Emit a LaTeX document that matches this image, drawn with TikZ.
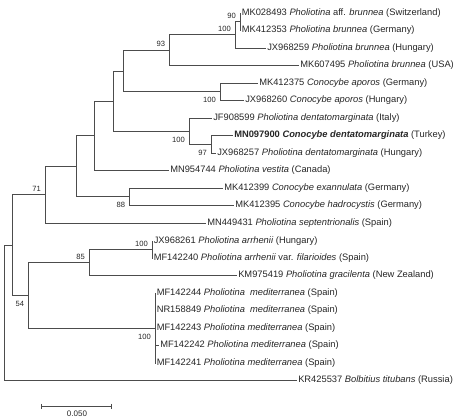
\documentclass[tikz,border=0pt]{standalone}
\usepackage{fontspec}
\setmainfont{Liberation Sans}
\begin{document}
\begin{tikzpicture}[x=0.75pt,y=-0.75pt,
  br/.style={draw=black!70, line width=0.6pt},
  leaf/.style={anchor=west, inner sep=0.75pt, font=\fontsize{7}{8}\selectfont, text=black!85, text height=5pt, text depth=1.5pt},
  bs/.style={anchor=base east, inner sep=0pt, font=\fontsize{5.7}{6}\selectfont, text=black!85, xshift=-3pt},
  bsa/.style={bs, yshift=2.5pt},
  bsb/.style={bs, yshift=-8.4pt}]
\useasboundingbox (0,0) rectangle (457,417);
% internal nodes
\coordinate (N90) at (240,21.75);
\coordinate (N100c) at (235,34.9);
\coordinate (N93) at (169.3,50.2);
\coordinate (N100b) at (220,91.75);
\coordinate (E) at (123,70.97);
\coordinate (N97) at (211,144.25);
\coordinate (N100a) at (189,131.1);
\coordinate (D) at (113.7,101);
\coordinate (C) at (94,135.8);
\coordinate (N88) at (129.3,196.75);
\coordinate (B) at (76.7,166.3);
\coordinate (N71) at (45,194.6);
\coordinate (N100r) at (152,249.5);
\coordinate (N85) at (89,262.5);
\coordinate (N100m) at (155,328);
\coordinate (N54) at (28.3,295.25);
\coordinate (A) at (12.3,244.9);
\coordinate (R) at (4,312.7);
% leaves
\node[leaf] (L1) at (240.5,13) {MK028493 \textit{Pholiotina} aff. \textit{brunnea} (Switzerland)};
\node[leaf] (L2) at (240.5,30.5) {MK412353 \textit{Pholiotina brunnea} (Germany)};
\node[leaf] (L3) at (266,48) {JX968259 \textit{Pholiotina brunnea} (Hungary)};
\node[leaf] (L4) at (299,65.5) {MK607495 \textit{Pholiotina brunnea} (USA)};
\node[leaf] (L5) at (258,83) {MK412375 \textit{Conocybe aporos} (Germany)};
\node[leaf] (L6) at (244,100.5) {JX968260 \textit{Conocybe aporos} (Hungary)};
\node[leaf] (L7) at (212,118) {JF908599 \textit{Pholiotina dentatomarginata} (Italy)};
\node[leaf] (L8) at (233,135.5) {\textbf{MN097900 \textit{Conocybe dentatomarginata}} (Turkey)};
\node[leaf] (L9) at (216,153) {JX968257 \textit{Pholiotina dentatomarginata} (Hungary)};
\node[leaf] (L10) at (169,170.5) {MN954744 \textit{Pholiotina vestita} (Canada)};
\node[leaf] (L11) at (223,188) {MK412399 \textit{Conocybe exannulata} (Germany)};
\node[leaf] (L12) at (234,205.5) {MK412395 \textit{Conocybe hadrocystis} (Germany)};
\node[leaf] (L13) at (206,223) {MN449431 \textit{Pholiotina septentrionalis} (Spain)};
\node[leaf] (L14) at (152.5,241) {JX968261 \textit{Pholiotina arrhenii} (Hungary)};
\node[leaf] (L15) at (152.5,258) {MF142240 \textit{Pholiotina arrhenii} var. \textit{filarioides} (Spain)};
\node[leaf] (L16) at (237,275.5) {KM975419 \textit{Pholiotina gracilenta} (New Zealand)};
\node[leaf] (L17) at (155.5,293) {MF142244 \textit{Pholiotina\ \ mediterranea} (Spain)};
\node[leaf] (L18) at (155.5,310.5) {NR158849 \textit{Pholiotina\ \ mediterranea} (Spain)};
\node[leaf] (L19) at (155.5,328) {MF142243 \textit{Pholiotina mediterranea} (Spain)};
\node[leaf] (L20) at (159,345.5) {MF142242 \textit{Pholiotina mediterranea} (Spain)};
\node[leaf] (L21) at (155.5,363) {MF142241 \textit{Pholiotina mediterranea} (Spain)};
\node[leaf] (L22) at (297,380.5) {KR425537 \textit{Bolbitius titubans} (Russia)};
% branches
\draw[br] (N90) |- (L1.west);
\draw[br] (N90) |- (L2.west);
\draw[br] (N100c) |- (N90);
\draw[br] (N100c) |- (L3.west);
\draw[br] (N93) |- (N100c);
\draw[br] (N93) |- (L4.west);
\draw[br] (N100b) |- (L5.west);
\draw[br] (N100b) |- (L6.west);
\draw[br] (E) |- (N93);
\draw[br] (E) |- (N100b);
\draw[br] (N97) |- (L8.west);
\draw[br] (N97) |- (L9.west);
\draw[br] (N100a) |- (L7.west);
\draw[br] (N100a) |- (N97);
\draw[br] (D) |- (E);
\draw[br] (D) |- (N100a);
\draw[br] (C) |- (D);
\draw[br] (C) |- (L10.west);
\draw[br] (N88) |- (L11.west);
\draw[br] (N88) |- (L12.west);
\draw[br] (B) |- (C);
\draw[br] (B) |- (N88);
\draw[br] (N71) |- (B);
\draw[br] (N71) |- (L13.west);
\draw[br] (N100r) |- (L14.west);
\draw[br] (N100r) |- (L15.west);
\draw[br] (N85) |- (N100r);
\draw[br] (N85) |- (L16.west);
\draw[br] (N100m) |- (L17.west);
\draw[br] (N100m) |- (L18.west);
\draw[br] (N100m) |- (L19.west);
\draw[br] (N100m) |- (L20.west);
\draw[br] (N100m) |- (L21.west);
\draw[br] (N54) |- (N85);
\draw[br] (N54) |- (N100m);
\draw[br] (A) |- (N71);
\draw[br] (A) |- (N54);
\draw[br] (R) |- (A);
\draw[br] (R) |- (L22.west);
% bootstrap values
\node[bsa] (b90) at (N90) {90};
\node[bsa] (b100c) at (N100c) {100};
\node[bsa] (b93) at (N93) {93};
\node[bsb] (b100b) at (N100b) {100};
\node[bsb] (b100a) at (N100a) {100};
\node[bsb] (b97) at (N97) {97};
\node[bsa] (b71) at (N71) {71};
\node[bsb] (b88) at (N88) {88};
\node[bsa] (b85) at (N85) {85};
\node[bsa] (b100r) at (N100r) {100};
\node[bsb] (b54) at (N54) {54};
\node[bsb] (b100m) at (N100m) {100};
% scale bar
\coordinate (sb1) at (41.7,406.2);
\coordinate (sb2) at (111.7,406.2);
\draw[br] (sb1) -- (sb2);
\draw[br] ([yshift=1.8pt]sb1) -- ([yshift=-1.8pt]sb1);
\draw[br] ([yshift=1.8pt]sb2) -- ([yshift=-1.8pt]sb2);
\node[anchor=north, inner sep=0pt, font=\fontsize{6}{7}\selectfont, text=black!85] (sbl) at (77,410.3) {0.050};
\end{tikzpicture}
\end{document}
